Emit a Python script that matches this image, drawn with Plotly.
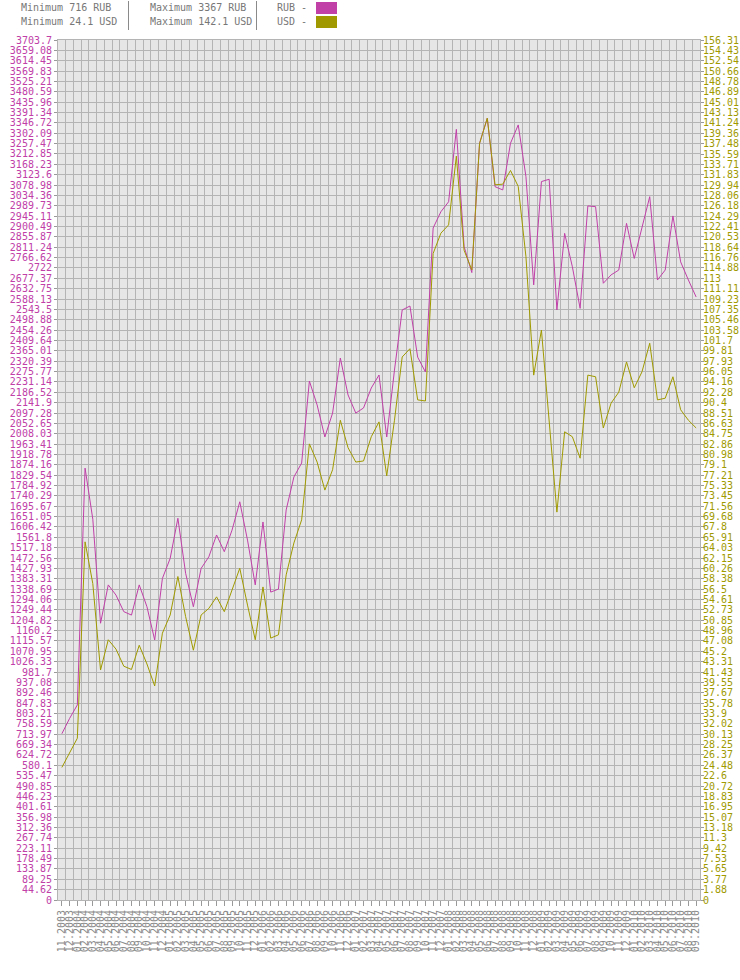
import plotly.graph_objects as go

months = [
    "11.2003", "12.2003",
    "01.2004", "02.2004", "03.2004", "04.2004", "05.2004", "06.2004", "07.2004", "08.2004", "09.2004", "10.2004", "11.2004", "12.2004",
    "01.2005", "02.2005", "03.2005", "04.2005", "05.2005", "06.2005", "07.2005", "08.2005", "09.2005", "10.2005", "11.2005", "12.2005",
    "01.2006", "02.2006", "03.2006", "04.2006", "05.2006", "06.2006", "07.2006", "08.2006", "09.2006", "10.2006", "11.2006", "12.2006",
    "01.2007", "02.2007", "03.2007", "04.2007", "05.2007", "06.2007", "07.2007", "08.2007", "09.2007", "10.2007", "11.2007", "12.2007",
    "01.2008", "02.2008", "03.2008", "04.2008", "05.2008", "06.2008", "07.2008", "08.2008", "09.2008", "10.2008", "11.2008", "12.2008",
    "01.2009", "02.2009", "03.2009", "04.2009", "05.2009", "06.2009", "07.2009", "08.2009", "09.2009", "10.2009", "11.2009", "12.2009",
    "01.2010", "02.2010", "03.2010", "04.2010", "05.2010", "06.2010", "07.2010", "08.2010", "09.2010",
]

rub = [716, 782, 840, 1860, 1640, 1192, 1357, 1313, 1242, 1227,
       1357, 1263, 1120, 1385, 1471, 1644, 1407, 1263, 1428, 1478,
       1572, 1500, 1593, 1715, 1550, 1357, 1628, 1326, 1339, 1680,
       1822, 1882, 2235, 2132, 1994, 2097, 2334, 2175, 2097, 2119,
       2205, 2261, 1994, 2282, 2541, 2558, 2338, 2274, 2894, 2964,
       3007, 3319, 2815, 2702, 3259, 3367, 3072, 3058, 3259, 3338,
       3115, 2649, 3094, 3104, 2541, 2871, 2727, 2548, 2989, 2986,
       2656, 2692, 2713, 2914, 2763, 2900, 3029, 2670, 2713, 2946,
       2748, 2670, 2597]

usd = [24.1, 26.9, 29.4, 65.1, 57.5, 41.8, 47.3, 45.6, 42.5, 41.9,
       46.3, 42.9, 38.9, 48.5, 51.8, 58.8, 51.5, 45.4, 51.8, 53.0,
       55.1, 52.4, 56.3, 60.3, 53.6, 47.3, 56.9, 47.6, 48.2, 59.1,
       64.9, 69.1, 82.9, 79.6, 74.5, 78.2, 87.2, 82.2, 79.6, 79.8,
       84.2, 86.9, 77.1, 87.2, 98.7, 100.2, 90.9, 90.7, 117.5, 121.2,
       122.7, 135.2, 118.1, 114.5, 137.5, 142.1, 130.0, 130.1, 132.6, 129.7,
       116.9, 95.4, 103.6, 87.2, 70.5, 85.1, 84.2, 80.3, 95.4, 95.1,
       85.8, 90.3, 92.3, 97.8, 93.1, 96.0, 101.2, 90.9, 91.2, 95.1,
       89.1, 87.2, 85.8]

rub_ticks = ["0", "44.62", "89.25", "133.87", "178.49", "223.11", "267.74", "312.36", "356.98", "401.61",
             "446.23", "490.85", "535.47", "580.1", "624.72", "669.34", "713.97", "758.59", "803.21", "847.83",
             "892.46", "937.08", "981.7", "1026.33", "1070.95", "1115.57", "1160.2", "1204.82", "1249.44", "1294.06",
             "1338.69", "1383.31", "1427.93", "1472.56", "1517.18", "1561.8", "1606.42", "1651.05", "1695.67", "1740.29",
             "1784.92", "1829.54", "1874.16", "1918.78", "1963.41", "2008.03", "2052.65", "2097.28", "2141.9", "2186.52",
             "2231.14", "2275.77", "2320.39", "2365.01", "2409.64", "2454.26", "2498.88", "2543.5", "2588.13", "2632.75",
             "2677.37", "2722", "2766.62", "2811.24", "2855.87", "2900.49", "2945.11", "2989.73", "3034.36", "3078.98",
             "3123.6", "3168.23", "3212.85", "3257.47", "3302.09", "3346.72", "3391.34", "3435.96", "3480.59", "3525.21",
             "3569.83", "3614.45", "3659.08", "3703.7"]

usd_ticks = ["0", "1.88", "3.77", "5.65", "7.53", "9.42", "11.3", "13.18", "15.07", "16.95",
             "18.83", "20.72", "22.6", "24.48", "26.37", "28.25", "30.13", "32.02", "33.9", "35.78",
             "37.67", "39.55", "41.43", "43.31", "45.2", "47.08", "48.96", "50.85", "52.73", "54.61",
             "56.5", "58.38", "60.26", "62.15", "64.03", "65.91", "67.8", "69.68", "71.56", "73.45",
             "75.33", "77.21", "79.1", "80.98", "82.86", "84.75", "86.63", "88.51", "90.4", "92.28",
             "94.16", "96.05", "97.93", "99.81", "101.7", "103.58", "105.46", "107.35", "109.23", "111.11",
             "113", "114.88", "116.76", "118.64", "120.53", "122.41", "124.29", "126.18", "128.06", "129.94",
             "131.83", "133.71", "135.59", "137.48", "139.36", "141.24", "143.13", "145.01", "146.89", "148.78",
             "150.66", "152.54", "154.43", "156.31"]

PINK = "#c040a8"
OLIVE = "#a09a00"
GRID = "#b4b4b4"
TXT = "#777777"
FONT = "DejaVu Sans Mono"

W, H = 740, 980
L, R, T, B = 58, 40, 40, 80
PW, PH = W - L - R, H - T - B


def px(x):
    return (x - L) / PW


def py(y):
    return (H - B - y) / PH


xi = list(range(len(months)))

fig = go.Figure()
fig.add_trace(go.Scatter(x=xi, y=rub, mode="lines", line=dict(color=PINK, width=1),
                         name="RUB", yaxis="y", hoverinfo="skip"))
fig.add_trace(go.Scatter(x=xi, y=usd, mode="lines", line=dict(color=OLIVE, width=1),
                         name="USD", yaxis="y2", hoverinfo="skip"))

fig.update_layout(
    width=W, height=H,
    margin=dict(l=L, r=R, t=T, b=B, pad=0, autoexpand=False),
    paper_bgcolor="white",
    plot_bgcolor="#e6e6e6",
    showlegend=False,
    font=dict(family=FONT, size=10, color=TXT),
    xaxis=dict(
        range=[-0.5, len(months) - 0.5],
        tickmode="array", tickvals=xi, ticktext=months,
        tickangle=-90, ticks="outside", ticklen=5, tickcolor="#999999", tickwidth=1,
        tickfont=dict(family=FONT, size=10, color="#8a8a8a"),
        showgrid=False, zeroline=False, automargin=False,
        showline=True, mirror=True, linecolor=GRID, linewidth=1,
        minor=dict(tickmode="array", tickvals=[i - 0.5 for i in range(len(months) + 1)],
                   showgrid=True, gridcolor=GRID, gridwidth=1, ticks=""),
    ),
    yaxis=dict(
        range=[0, float(rub_ticks[-1])],
        tickmode="array", tickvals=[float(s) for s in rub_ticks], ticktext=rub_ticks,
        ticks="outside", ticklen=3, tickcolor="#999999",
        tickfont=dict(family=FONT, size=10, color=PINK),
        showgrid=True, gridcolor=GRID, gridwidth=1, zeroline=False, automargin=False,
        showline=True, mirror=True, linecolor=GRID, linewidth=1,
    ),
    yaxis2=dict(
        overlaying="y", side="right",
        range=[0, float(usd_ticks[-1])],
        tickmode="array", tickvals=[float(s) for s in usd_ticks], ticktext=usd_ticks,
        ticks="outside", ticklen=3, tickcolor="#999999",
        ticklabelstandoff=-3,
        tickfont=dict(family=FONT, size=10, color=OLIVE),
        showgrid=False, zeroline=False, automargin=False,
    ),
)

hdr = [
    (19, 8, f"Minimum {min(rub)} RUB"),
    (19, 21, f"Minimum {min(usd)} USD"),
    (148, 8, f"Maximum {max(rub)} RUB"),
    (148, 21, f"Maximum {max(usd)} USD"),
    (275, 8, "RUB -"),
    (275, 21, "USD -"),
]
for x, y, t in hdr:
    fig.add_annotation(text=t, xref="paper", yref="paper", x=px(x), y=py(y),
                       xanchor="left", yanchor="middle", showarrow=False,
                       font=dict(family=FONT, size=10, color=TXT))

for sx in (128.5, 256.5):
    fig.add_shape(type="line", xref="paper", yref="paper", x0=px(sx), x1=px(sx),
                  y0=py(1), y1=py(30), line=dict(color="#8a8a8a", width=1))

for (y0, y1, c) in ((2, 14, PINK), (16, 28, OLIVE)):
    fig.add_shape(type="rect", xref="paper", yref="paper", x0=px(316), x1=px(337),
                  y0=py(y0), y1=py(y1), fillcolor=c, line=dict(width=0))

fig.write_html(
    "out.html",
    config={"displayModeBar": False},
    post_script="document.body.style.margin='0px';document.body.style.overflow='hidden';",
)
